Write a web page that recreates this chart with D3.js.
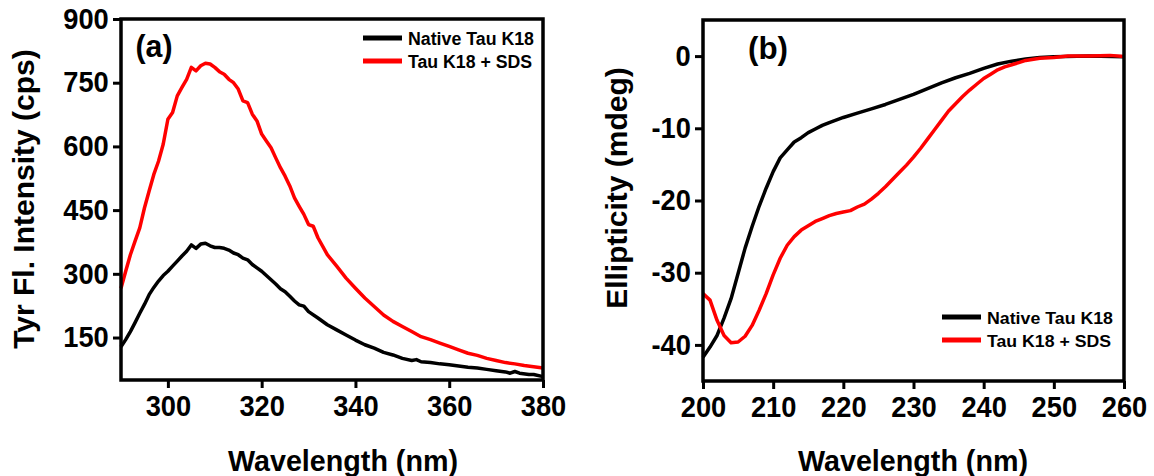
<!DOCTYPE html>
<html>
<head>
<meta charset="utf-8">
<script src="https://cdn.jsdelivr.net/npm/d3@7"></script>
<style>
  body { margin: 0; background: #fff; }
  svg { display: block; font-family: "Liberation Sans", Arial, sans-serif; font-weight: bold; }
</style>
</head>
<body>
<svg id="chart" width="1154" height="476"></svg>
<script>
// (a) Tyr fluorescence emission
const fluoNativeWl = [290,291,292,293,294,295,296,297,298,299,300,301,302,303,304,305,306,307,308,309,310,311,312,313,314,315,316,317,318,319,320,321,322,323,324,325,326,327,328,329,330,332,334,336,338,340,342,344,346,348,350,352,353,354,356,358,360,362,364,366,368,370,372,373,374,375,377,378,380];
const fluoNative = [128,145,164,185,207,228,251,268,283,296,306,318,330,342,353,368,360,370,372,366,362,362,360,356,349,345,337,333,322,314,306,296,286,276,265,258,247,236,227,224,211,196,180,168,156,144,133,125,115,109,101,96,98,93,91,88,86,83,80,78,75,72,69,66,70,66,63,63,58];

const fluoSdsWl = [290,291,292,293,294,295,296,297,298,299,300,301,302,303,304,305,306,307,308,309,310,311,312,313,314,315,316,317,318,319,320,321,322,323,324,325,326,327,328,329,330,331,332,334,336,338,340,342,344,346,348,350,352,354,356,358,360,362,364,366,368,370,372,374,376,378,380];
const fluoSds = [266,306,345,377,408,455,495,534,565,605,664,680,719,739,758,786,778,790,796,794,786,776,770,758,750,735,707,703,676,660,629,613,597,573,550,530,507,479,459,440,416,412,385,345,318,290,266,243,223,203,188,176,164,152,145,137,129,121,113,108,101,96,91,88,84,81,78];

// (b) CD spectra
const cdNativeWl = [200,201,202,203,204,205,206,207,208,209,210,211,212,213,214,215,216,217,218,220,222,224,226,228,230,232,234,236,238,240,242,244,246,248,250,255,260];
const cdNative = [-41.7,-40.3,-38.7,-36.3,-33.6,-30.1,-26.6,-23.6,-20.8,-18.3,-16.0,-14.1,-13.0,-11.9,-11.3,-10.6,-10.1,-9.6,-9.2,-8.5,-7.9,-7.3,-6.7,-6.0,-5.3,-4.5,-3.7,-3.0,-2.4,-1.7,-1.1,-0.7,-0.4,-0.2,-0.1,0,-0.1];

const cdSdsWl = [200,201,202,203,204,205,206,207,208,209,210,211,212,213,214,215,216,217,218,219,220,221,222,223,224,225,226,227,228,229,230,231,232,233,234,235,236,237,238,239,240,241,242,243,244,245,246,248,250,252,255,258,260];
const cdSds = [-32.9,-33.8,-36.6,-38.7,-39.7,-39.6,-38.8,-37.3,-35.2,-32.9,-30.3,-28.0,-26.2,-25.0,-24.1,-23.5,-22.9,-22.5,-22.1,-21.8,-21.6,-21.4,-20.9,-20.5,-19.8,-19.0,-18.1,-17.1,-16.1,-15.1,-14.0,-12.8,-11.5,-10.2,-8.9,-7.6,-6.6,-5.6,-4.7,-3.9,-3.1,-2.5,-1.9,-1.5,-1.2,-0.9,-0.6,-0.3,-0.2,0,0,0.1,-0.05];

const fluoXTicks = [300, 320, 340, 360, 380];
const fluoYTicks = [150, 300, 450, 600, 750, 900];
const cdXTicks = [200, 210, 220, 230, 240, 250, 260];
const cdYTicks = [0, -10, -20, -30, -40];

const seriesNames = ["Native Tau K18", "Tau K18 + SDS"];
const seriesColors = ["#000000", "#ff0000"];

const svg = d3.select("#chart");
const sx = 0.94; // the figure is slightly squeezed horizontally

function zip(xs, ys) { return xs.map((x, i) => ({ x: x, y: ys[i] })); }
const fmt = d => d < 0 ? "-" + Math.abs(d) : String(d);

function drawPanel(cfg) {
  const x = d3.scaleLinear().domain(cfg.xDomain).range(cfg.xRange);
  const y = d3.scaleLinear().domain(cfg.yDomain).range(cfg.yRange);
  const g = svg.append("g");

  // axes
  const xa = g.append("g")
    .attr("transform", `translate(0,${cfg.yRange[0]})`)
    .call(d3.axisBottom(x).tickValues(cfg.xTicks).tickSize(8).tickPadding(7).tickFormat(fmt));
  const ya = g.append("g")
    .attr("transform", `translate(${cfg.xRange[0]},0)`)
    .call(d3.axisLeft(y).tickValues(cfg.yTicks).tickSize(8).tickPadding(5).tickFormat(fmt));

  [xa, ya].forEach(a => {
    a.select(".domain").remove();
    a.selectAll(".tick line").attr("stroke", "#000").attr("stroke-width", 3);
    a.selectAll(".tick text")
      .attr("fill", "#000")
      .style("font-size", "29px")
      .style("font-family", "'Liberation Sans', Arial, sans-serif")
      .style("font-weight", "bold");
  });
  xa.selectAll(".tick text").attr("transform", `scale(${sx},1)`);
  ya.selectAll(".tick text").attr("transform", `scale(${sx},1)`);

  // curves
  const line = d3.line().x(d => x(d.x)).y(d => y(d.y));
  cfg.series.forEach((s, i) => {
    g.append("path")
      .datum(s)
      .attr("d", line)
      .attr("fill", "none")
      .attr("stroke", seriesColors[i])
      .attr("stroke-width", 3.5)
      .attr("stroke-linejoin", "round");
  });

  // frame
  g.append("rect")
    .attr("x", cfg.xRange[0])
    .attr("y", cfg.yRange[1])
    .attr("width", cfg.xRange[1] - cfg.xRange[0])
    .attr("height", cfg.yRange[0] - cfg.yRange[1])
    .attr("fill", "none")
    .attr("stroke", "#000")
    .attr("stroke-width", 3.5);

  // panel letter
  g.append("text")
    .attr("x", cfg.letterPos[0]).attr("y", cfg.letterPos[1])
    .attr("text-anchor", "middle")
    .attr("font-size", 31)
    .attr("textLength", cfg.letterLen).attr("lengthAdjust", "spacingAndGlyphs")
    .text(cfg.letter);

  // legend
  seriesNames.forEach((name, i) => {
    const ly = cfg.legend.y + i * 23;
    g.append("line")
      .attr("x1", cfg.legend.x).attr("x2", cfg.legend.x + 39)
      .attr("y1", ly).attr("y2", ly)
      .attr("stroke", seriesColors[i]).attr("stroke-width", 5);
    g.append("text")
      .attr("x", cfg.legend.x + 45).attr("y", ly + 6.5)
      .attr("font-size", cfg.legend.size)
      .attr("textLength", i === 0 ? 126 : 124).attr("lengthAdjust", "spacingAndGlyphs")
      .text(name);
  });

  // axis titles
  g.append("text")
    .attr("x", cfg.xTitle[0]).attr("y", cfg.xTitle[1])
    .attr("text-anchor", "middle")
    .attr("font-size", 30)
    .attr("textLength", 230).attr("lengthAdjust", "spacingAndGlyphs")
    .text("Wavelength (nm)");
  g.append("text")
    .attr("transform", `translate(${cfg.yTitle[0]},${cfg.yTitle[1]}) rotate(-90)`)
    .attr("text-anchor", "middle")
    .attr("font-size", 30)
    .text(cfg.yLabel);
}

drawPanel({
  xDomain: [290, 380], xRange: [121, 543],
  yDomain: [50, 900], yRange: [380, 19],
  xTicks: fluoXTicks, yTicks: fluoYTicks,
  series: [zip(fluoNativeWl, fluoNative), zip(fluoSdsWl, fluoSds)],
  letter: "(a)", letterPos: [154, 57], letterLen: 37,
  legend: { x: 363, y: 38, size: 17.5 },
  xTitle: [343, 471], yTitle: [34, 199], yLabel: "Tyr Fl. Intensity (cps)"
});

drawPanel({
  xDomain: [200, 260], xRange: [703, 1124],
  yDomain: [-45, 5], yRange: [381, 20],
  xTicks: cdXTicks, yTicks: cdYTicks,
  series: [zip(cdNativeWl, cdNative), zip(cdSdsWl, cdSds)],
  letter: "(b)", letterPos: [768, 59], letterLen: 40,
  legend: { x: 942, y: 317, size: 16.5 },
  xTitle: [913, 471], yTitle: [627, 188], yLabel: "Ellipticity (mdeg)"
});
</script>
</body>
</html>
